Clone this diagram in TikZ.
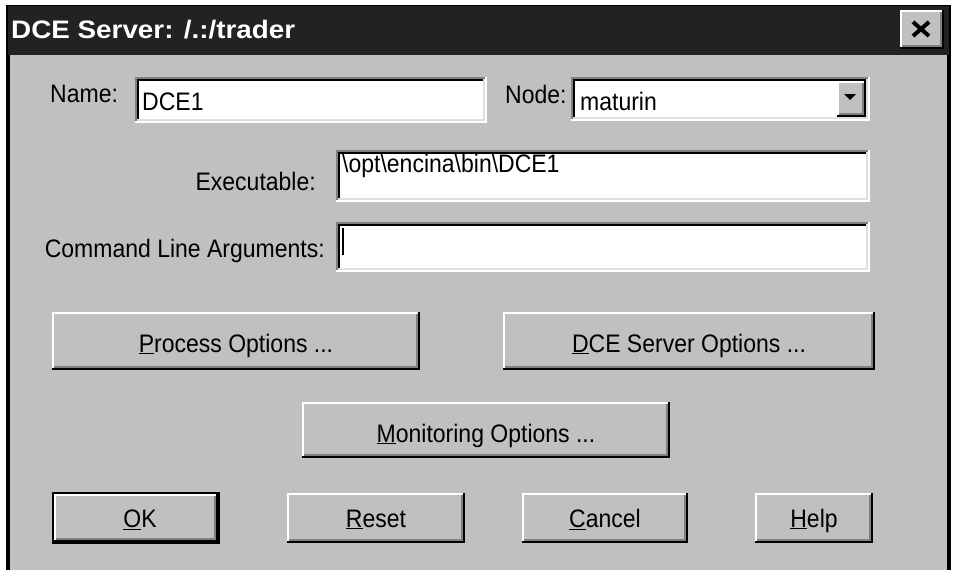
\documentclass[tikz,border=0pt]{standalone}
\usepackage{fontspec}
\setmainfont{Liberation Sans}
\definecolor{winface}{HTML}{C0C0C0}
\definecolor{winshadow}{HTML}{808080}
\definecolor{winlight}{HTML}{DFDFDF}
\definecolor{titlebar}{HTML}{222222}
\tikzset{
  bev/.style={line width=2pt},
  lbl/.style={inner sep=0pt, font=\fontsize{23}{27}\selectfont},
}
\newcommand\tx[1]{\scalebox{1}[1.1]{#1}}
% raised bevel box: x1 y1 x2 y2 (y grows downward)
\newcommand\raisedbox[4]{%
  \fill[winface] (#1,#2) rectangle (#3,#4);
  \draw[bev,white] ({#1+1},{#4-2}) -- ({#1+1},{#2+1}) -- ({#3-2},{#2+1});
  \draw[bev,black] ({#1},{#4-1}) -- ({#3-1},{#4-1}) -- ({#3-1},{#2});
  \draw[bev,winshadow] ({#1+2},{#4-3}) -- ({#3-3},{#4-3}) -- ({#3-3},{#2+2});
}
% sunken field
\newcommand\sunkenbox[4]{%
  \fill[white] (#1,#2) rectangle (#3,#4);
  \draw[bev,winshadow] ({#1+1},{#4-1}) -- ({#1+1},{#2+1}) -- ({#3-1},{#2+1});
  \draw[bev,black] ({#1+3},{#4-3}) -- ({#1+3},{#2+3}) -- ({#3-3},{#2+3});
  \draw[bev,white] ({#1},{#4-1}) -- ({#3-1},{#4-1}) -- ({#3-1},{#2});
  \draw[bev,winlight] ({#1+2},{#4-3}) -- ({#3-3},{#4-3}) -- ({#3-3},{#2+2});
}
\begin{document}
\begin{tikzpicture}[x=1pt,y=-1pt]
\useasboundingbox (0,0) rectangle (954,570);
\fill[white] (0,0) rectangle (954,570);
% window frame
\fill[black] (6,5) rectangle (951,570);
\fill[winface] (10,55) rectangle (947,570);
\fill[titlebar] (8,6) rectangle (949,55);
\node[anchor=base west, inner sep=0pt, text=white, font=\fontsize{23}{27}\selectfont\bfseries] (title) at (11,38) {\scalebox{1.21}[1.1]{DCE Server: /.:/trader}};
% close button
\raisedbox{900}{10}{944}{49}
\coordinate (closec) at (921,29);
\draw[line width=4pt] ([xshift=-8pt,yshift=7pt]closec) -- ([xshift=8pt,yshift=-7pt]closec);
\draw[line width=4pt] ([xshift=-8pt,yshift=-7pt]closec) -- ([xshift=8pt,yshift=7pt]closec);

% Name
\node[lbl, anchor=base west] (namelbl) at (50,102) {\tx{Name:}};
\sunkenbox{135}{77}{487}{123}
\node[lbl, anchor=base west] (nameval) at (142,110) {\tx{DCE1}};

% Node combo
\node[lbl, anchor=base west] (nodelbl) at (505,103) {\tx{Node:}};
\sunkenbox{571}{77}{870}{121}
\node[lbl, anchor=base west] (nodeval) at (580,110) {\tx{maturin}};
\raisedbox{837}{81}{866}{117}
\fill[black] (844,94) -- (856,94) -- (850,100) -- cycle;

% Executable
\node[lbl, anchor=base east] (exelbl) at (316,190) {\tx{Executable:}};
\sunkenbox{336}{150}{870}{202}
\node[lbl, anchor=base west] (exeval) at (342,172) {\tx{\textbackslash opt\textbackslash encina\textbackslash bin\textbackslash DCE1}};

% Command line
\node[lbl, anchor=base east] (cmdlbl) at (325,257) {\tx{Command Line Arguments:}};
\sunkenbox{336}{222}{870}{272}
\draw[line width=2pt] (343,228) -- (343,255);

% Buttons
\raisedbox{52}{312}{420}{370}
\node[lbl, anchor=base] (proc) at (236,352) {\tx{\underline{P}rocess Options ...}};
\raisedbox{503}{312}{875}{370}
\node[lbl, anchor=base] (dceopt) at (689,352) {\tx{\underline{D}CE Server Options ...}};
\raisedbox{302}{402}{670}{458}
\node[lbl, anchor=base] (mon) at (486,442) {\tx{\underline{M}onitoring Options ...}};

% OK (default button)
\fill[black] (52,492) rectangle (220,544);
\raisedbox{54}{494}{218}{542}
\node[lbl, anchor=base] (ok) at (140,527) {\tx{\underline{O}K}};
\raisedbox{287}{493}{465}{543}
\node[lbl, anchor=base] (reset) at (376,527) {\tx{\underline{R}eset}};
\raisedbox{522}{493}{688}{543}
\node[lbl, anchor=base] (cancel) at (605,527) {\tx{\underline{C}ancel}};
\raisedbox{755}{493}{873}{543}
\node[lbl, anchor=base] (help) at (814,527) {\tx{\underline{H}elp}};
\end{tikzpicture}
\end{document}
